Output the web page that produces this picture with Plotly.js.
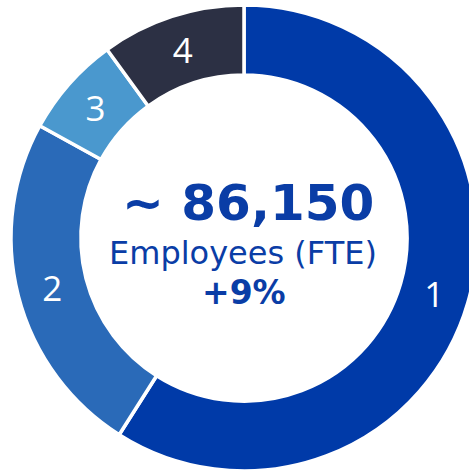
<!DOCTYPE html>
<html>
<head>
<meta charset="utf-8">
<script src="https://cdn.plot.ly/plotly-3.0.1.min.js"></script>
<style>
html,body{margin:0;padding:0;overflow:hidden;background:#fff;width:469px;height:471px;}
#chart{width:480px;height:471px;}
</style>
</head>
<body>
<div id="chart"></div>
<script>
const segments = ["1", "2", "3", "4"];
const shares = [59, 24, 7, 10];
const colors = ["#003AA8", "#2A6AB8", "#4A98CE", "#2C3044"];
const centerLines = ["~ 86,150", "Employees (FTE)", "+9%"];

const trace = {
  type: "pie",
  labels: segments,
  values: shares,
  sort: false,
  direction: "clockwise",
  rotation: 0,
  hole: 0.70,
  marker: {colors: colors, line: {color: "#ffffff", width: 3.5}},
  textinfo: "label",
  textposition: "inside",
  insidetextorientation: "horizontal",
  textfont: {family: "Open Sans", size: 35, weight: 400, color: "#ffffff"},
  hoverinfo: "none",
  showlegend: false
};

const layout = {
  width: 480,
  height: 471,
  margin: {l: 11, r: 3, t: 5, b: 0},
  paper_bgcolor: "#ffffff",
  showlegend: false,
  annotations: [
    {text: "<b>" + centerLines[0] + "</b>", x: 0.508, y: 0.576, xref: "paper", yref: "paper",
     showarrow: false, xanchor: "center", yanchor: "middle",
     font: {family: "DejaVu Sans", size: 50, color: "#0A3DA6"}},
    {text: centerLines[1], x: 0.497, y: 0.468, xref: "paper", yref: "paper",
     showarrow: false, xanchor: "center", yanchor: "middle",
     font: {family: "DejaVu Sans", size: 32, color: "#0A3DA6"}},
    {text: "<b>" + centerLines[2] + "</b>", x: 0.499, y: 0.384, xref: "paper", yref: "paper",
     showarrow: false, xanchor: "center", yanchor: "middle",
     font: {family: "DejaVu Sans", size: 33, color: "#0A3DA6"}}
  ]
};

Plotly.newPlot("chart", [trace], layout, {staticPlot: true, displayModeBar: false});
</script>
</body>
</html>
